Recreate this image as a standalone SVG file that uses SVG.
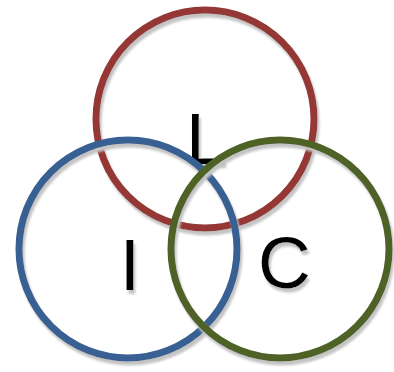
<svg xmlns="http://www.w3.org/2000/svg" width="394" height="372" viewBox="0 0 394 372">
<defs>
<filter id="shadow" x="-10%" y="-10%" width="130%" height="130%">
<feOffset in="SourceAlpha" dx="2" dy="4" result="off"/>
<feGaussianBlur in="off" stdDeviation="0.8" result="blur"/>
<feFlood flood-color="#c4c4c4"/>
<feComposite in2="blur" operator="in" result="sh"/>
<feMerge><feMergeNode in="sh"/><feMergeNode in="SourceGraphic"/></feMerge>
</filter>
</defs>
<style>
.ring{fill:none;stroke-width:7;filter:url(#shadow)}
.t{font-family:"Liberation Sans",Arial,sans-serif;font-size:73px;fill:#000;filter:url(#shadow)}
</style>
<rect width="394" height="372" fill="#fff"/>
<g id="node-L">
<circle class="ring" cx="205" cy="119" r="109" stroke="#953735"/>
<text class="t" x="186" y="164">L</text>
</g>
<g id="node-I">
<circle class="ring" cx="128" cy="249" r="109" stroke="#376092"/>
<text class="t" x="130" y="290" text-anchor="middle">I</text>
</g>
<g id="node-C">
<circle class="ring" cx="280" cy="249" r="109" stroke="#4f6228"/>
<text class="t" x="258" y="288">C</text>
</g>
<g id="connectors"/>
</svg>
